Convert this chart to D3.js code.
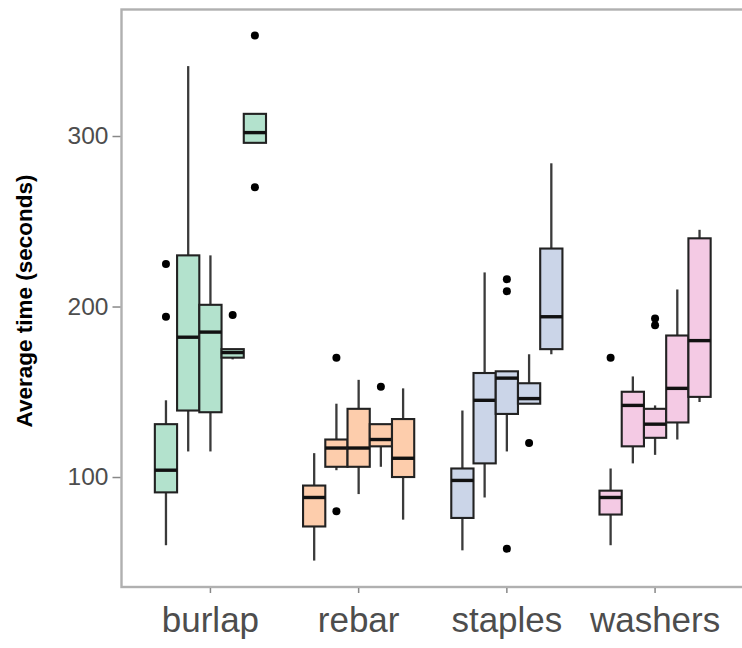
<!DOCTYPE html>
<html>
<head>
<meta charset="utf-8">
<script src="https://cdn.jsdelivr.net/npm/d3@7"></script>
<style>
  body { margin: 0; background: #fff; }
  svg { display: block; font-family: "Liberation Sans", Arial, sans-serif; }
</style>
</head>
<body>
<div class="chart"></div>
<script>
// materials on the x axis, five trials dodged inside each
var materials = ["burlap", "rebar", "staples", "washers"];
var trials = ["1", "2", "3", "4", "5"];
var colors = ["#b3e2cd", "#fdcdac", "#cbd5e8", "#f4cae4"];

// [lower whisker, q1, median, q3, upper whisker] for each trial
var burlap = [[60, 91, 104, 131, 145], [115, 139, 182, 230, 341], [115, 138, 185, 201, 230], [169, 170, 173, 175, 175], [296, 296, 302, 313, 313]];
var rebar = [[51, 71, 88, 95, 114], [104, 106, 117, 122, 143], [90, 106, 117, 140, 157], [106, 118, 122, 131, 131], [75, 100, 111, 134, 152]];
var staples = [[57, 76, 98, 105, 139], [88, 108, 145, 161, 220], [115, 137, 158, 162, 162], [143, 143, 146, 155, 172], [172, 175, 194, 234, 284]];
var washers = [[60, 78, 88, 92, 105], [108, 118, 142, 150, 159], [113, 123, 131, 140, 142], [122, 132, 152, 183, 210], [144, 147, 180, 240, 245]];

// outliers per trial
var burlapOut = [[225, 194], [], [], [195], [359, 270]];
var rebarOut = [[], [170, 80], [], [153], []];
var staplesOut = [[], [], [216, 209, 58], [120], []];
var washersOut = [[170], [], [193, 189], [], []];

var yTicks = [100, 200, 300];

var stats = [burlap, rebar, staples, washers];
var outs = [burlapOut, rebarOut, staplesOut, washersOut];

var svgWidth = 742, svgHeight = 648;
var panel = { left: 121.5, right: 744, top: 9.5, bottom: 587 };

var svg = d3.select(".chart")
    .append("svg")
    .attr("width", svgWidth)
    .attr("height", svgHeight);

// scales
var x = d3.scaleBand()
    .domain(materials)
    .range([panel.left, panel.right])
    .paddingInner(0)
    .paddingOuter(0.1);

var xInner = d3.scaleBand()
    .domain(trials)
    .range([0, x.bandwidth() * 0.75])
    .paddingInner(0);

var y = d3.scaleLinear()
    .domain([35.5, 374.2])
    .range([panel.bottom, panel.top]);

// flatten into one row per box
var boxes = [];
materials.forEach(function (m, i) {
    trials.forEach(function (t, j) {
        var s = stats[i][j];
        boxes.push({ material: m, trial: t, color: colors[i],
            lo: s[0], q1: s[1], med: s[2], q3: s[3], hi: s[4], out: outs[i][j] });
    });
});

function boxLeft(d) {
    return x(d.material) + x.bandwidth() * 0.125 + xInner(d.trial);
}
function boxMid(d) {
    return boxLeft(d) + xInner.bandwidth() / 2;
}

var g = svg.append("g");

var box = g.selectAll(".box")
    .data(boxes)
    .enter()
    .append("g")
    .attr("class", "box");

// whiskers
box.append("line")
    .attr("x1", boxMid).attr("x2", boxMid)
    .attr("y1", d => y(d.q3)).attr("y2", d => y(d.hi))
    .attr("stroke", "#3a3a3a").attr("stroke-width", 2.3);
box.append("line")
    .attr("x1", boxMid).attr("x2", boxMid)
    .attr("y1", d => y(d.q1)).attr("y2", d => y(d.lo))
    .attr("stroke", "#3a3a3a").attr("stroke-width", 2.3);

box.append("rect")
    .attr("x", boxLeft)
    .attr("y", d => y(d.q3))
    .attr("width", xInner.bandwidth())
    .attr("height", d => Math.max(1, y(d.q1) - y(d.q3)))
    .attr("fill", d => d.color)
    .attr("stroke", "#222")
    .attr("stroke-width", 2.1);

box.append("line")
    .attr("x1", boxLeft)
    .attr("x2", d => boxLeft(d) + xInner.bandwidth())
    .attr("y1", d => y(d.med)).attr("y2", d => y(d.med))
    .attr("stroke", "#111").attr("stroke-width", 3.4);

// outliers
box.selectAll("circle")
    .data(d => d.out.map(v => ({ v: v, cx: boxMid(d) })))
    .enter()
    .append("circle")
    .attr("cx", d => d.cx)
    .attr("cy", d => y(d.v))
    .attr("r", 4)
    .attr("fill", "#000");

// panel border
svg.append("rect")
    .attr("x", panel.left)
    .attr("y", panel.top)
    .attr("width", panel.right - panel.left)
    .attr("height", panel.bottom - panel.top)
    .attr("fill", "none")
    .attr("stroke", "#b0b0b0")
    .attr("stroke-width", 2.4);

// axes
var yAxis = d3.axisLeft(y).tickValues(yTicks).tickSize(8).tickPadding(4);
var yAxisG = svg.append("g")
    .attr("transform", `translate(${panel.left - 1},0)`)
    .call(yAxis);
yAxisG.select(".domain").remove();
yAxisG.selectAll("line").attr("stroke", "#888").attr("stroke-width", 1.5);
yAxisG.selectAll("text")
    .attr("fill", "#4d4d4d")
    .style("font-size", "24.5px");

var xAxis = d3.axisBottom(x).tickSize(5).tickPadding(14);
var xAxisG = svg.append("g")
    .attr("transform", `translate(0,${panel.bottom + 1})`)
    .call(xAxis);
xAxisG.select(".domain").remove();
xAxisG.selectAll("line").attr("stroke", "#888").attr("stroke-width", 1.5);
xAxisG.selectAll("text")
    .attr("fill", "#4d4d4d")
    .style("font-size", "35px");

// y axis title
svg.append("text")
    .attr("transform", "translate(32,301) rotate(-90)")
    .attr("text-anchor", "middle")
    .attr("font-weight", "bold")
    .attr("font-size", "22.5px")
    .attr("fill", "#000")
    .text("Average time (seconds)");
</script>
</body>
</html>
